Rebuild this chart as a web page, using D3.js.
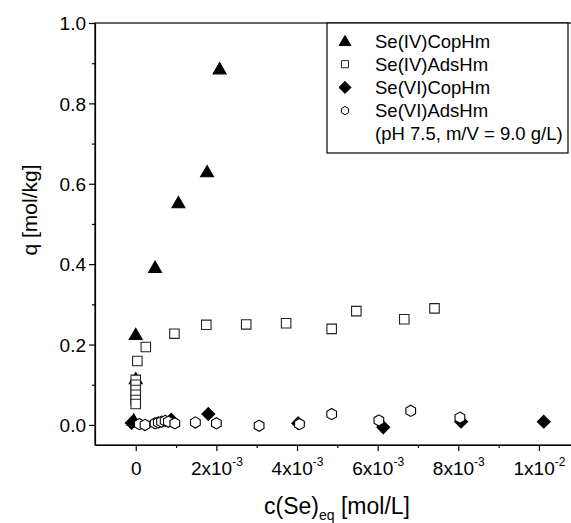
<!DOCTYPE html>
<html>
<head>
<meta charset="utf-8">
<script src="https://cdn.jsdelivr.net/npm/d3@7"></script>
<style>
  body { margin: 0; background: #fff; }
  text { font-family: "Liberation Sans", Arial, sans-serif; fill: #000; }
</style>
</head>
<body>
<script>
// Se(IV) co-precipitation on hematite (x in 1e-3 mol/L, q in mol/kg)
var copIVx = [0.00, 0.00, -0.05, 0.48, 1.06, 1.77, 2.08];
var copIVq = [0.225, 0.115, 0.012, 0.392, 0.553, 0.63, 0.886];

// Se(IV) adsorption
var adsIVx = [0.00, 0.00, 0.00, 0.00, 0.00, 0.00, 0.04, 0.25, 0.96, 1.75, 2.74, 3.73, 4.86, 5.47, 6.66, 7.41];
var adsIVq = [0.112, 0.100, 0.087, 0.075, 0.062, 0.052, 0.159, 0.194, 0.227, 0.249, 0.250, 0.253, 0.239, 0.283, 0.263, 0.290];

// Se(VI) co-precipitation
var copVIx = [-0.10, 0.88, 1.80, 4.03, 6.14, 8.07, 10.12];
var copVIq = [0.005, 0.013, 0.027, 0.004, -0.006, 0.008, 0.008];

// Se(VI) adsorption
var adsVIx = [0.09, 0.23, 0.48, 0.56, 0.64, 0.73, 0.81, 0.97, 1.48, 2.00, 3.06, 4.06, 4.86, 6.03, 6.82, 8.04];
var adsVIq = [0.002, 0.000, 0.004, 0.006, 0.008, 0.010, 0.008, 0.004, 0.006, 0.004, -0.002, 0.002, 0.027, 0.011, 0.035, 0.018];

var legendNames = ["Se(IV)CopHm", "Se(IV)AdsHm", "Se(VI)CopHm", "Se(VI)AdsHm"];
var legendNote = "(pH 7.5, m/V = 9.0 g/L)";

var yTicks = [0, 0.2, 0.4, 0.6, 0.8, 1.0];
var yMinor = [0.1, 0.3, 0.5, 0.7, 0.9];
var xTicks = [0, 2e-3, 4e-3, 6e-3, 8e-3, 1e-2];
var xMinor = [1e-3, 3e-3, 5e-3, 7e-3, 9e-3];
var xTickMant = ["0", "2x10", "4x10", "6x10", "8x10", "1x10"];
var xTickExp = ["", "-3", "-3", "-3", "-3", "-2"];

var W = 571, H = 523;
var plotL = 95, plotR = 572, plotT = 23, plotB = 445;

var x = d3.scaleLinear().domain([-1.01e-3, 10.82e-3]).range([plotL, plotR]);
var y = d3.scaleLinear().domain([-0.05, 1.0]).range([plotB, plotT]);

var svg = d3.select("body").append("svg")
    .attr("width", W)
    .attr("height", H);

// custom marker shapes
var triShape = { draw: function(c, s) {
    var r = Math.sqrt(s) / 2;
    c.moveTo(0, -r * 1.05); c.lineTo(r * 1.1, r * 0.85); c.lineTo(-r * 1.1, r * 0.85); c.closePath();
}};
var sqShape = { draw: function(c, s) {
    var r = Math.sqrt(s) / 2;
    c.rect(-r, -r, 2 * r, 2 * r);
}};
var diaShape = { draw: function(c, s) {
    var r = Math.sqrt(s) / 2 * 1.35;
    c.moveTo(0, -r); c.lineTo(r, 0); c.lineTo(0, r); c.lineTo(-r, 0); c.closePath();
}};
var hexShape = { draw: function(c, s) {
    var r = Math.sqrt(s) / 2 * 1.12;
    for (var i = 0; i < 6; i++) {
        var a = Math.PI / 3 * i - Math.PI / 2;
        if (i === 0) c.moveTo(r * Math.cos(a), r * Math.sin(a));
        else c.lineTo(r * Math.cos(a), r * Math.sin(a));
    }
    c.closePath();
}};

var series = [
    {xs: copIVx, qs: copIVq, shape: triShape, size: 140, fill: "#000", stroke: "#000"},
    {xs: adsIVx, qs: adsIVq, shape: sqShape, size: 90, fill: "#fff", stroke: "#222"},
    {xs: copVIx, qs: copVIq, shape: diaShape, size: 90, fill: "#000", stroke: "#000"},
    {xs: adsVIx, qs: adsVIq, shape: hexShape, size: 100, fill: "#fff", stroke: "#000"}
];

// frame
svg.append("rect")
    .attr("x", plotL).attr("y", plotT)
    .attr("width", plotR - plotL).attr("height", plotB - plotT)
    .attr("fill", "none").attr("stroke", "#000").attr("stroke-width", 1.2);

// y axis
svg.append("g")
    .attr("transform", "translate(" + plotL + ",0)")
    .call(d3.axisLeft(y).tickValues(yTicks).tickSize(6).tickSizeOuter(0).tickFormat(d3.format(".1f")))
    .call(function(g) {
        g.select(".domain").attr("stroke-width", 1.2);
        g.selectAll("line").attr("stroke-width", 1.2);
        g.selectAll("text").attr("font-size", "19px").attr("x", -9).attr("dy", "0.36em")
            .style("font-family", "Liberation Sans, Arial, sans-serif");
    });
svg.append("g")
    .attr("transform", "translate(" + plotL + ",0)")
    .call(d3.axisLeft(y).tickValues(yMinor).tickSize(3).tickSizeOuter(0).tickFormat(""))
    .call(function(g) { g.select(".domain").remove(); g.selectAll("line").attr("stroke-width", 1.2); });

// x axis
svg.append("g")
    .attr("transform", "translate(0," + plotB + ")")
    .call(d3.axisBottom(x).tickValues(xTicks).tickSize(6).tickSizeOuter(0).tickFormat(""))
    .call(function(g) {
        g.select(".domain").attr("stroke-width", 1.2);
        g.selectAll("line").attr("stroke-width", 1.2);
        g.selectAll(".tick text").remove();
        g.selectAll(".tick").each(function(d, i) {
            var t = d3.select(this).append("text")
                .attr("y", 30)
                .attr("text-anchor", "middle")
                .attr("font-size", "19px")
                .attr("fill", "#000");
            t.append("tspan").text(xTickMant[i]);
            if (xTickExp[i]) {
                t.append("tspan").attr("dy", -9).attr("font-size", "12px").text(xTickExp[i]);
            }
        });
    });
svg.append("g")
    .attr("transform", "translate(0," + plotB + ")")
    .call(d3.axisBottom(x).tickValues(xMinor).tickSize(3).tickSizeOuter(0).tickFormat(""))
    .call(function(g) { g.select(".domain").remove(); g.selectAll("line").attr("stroke-width", 1.2); });

// axis titles
svg.append("text")
    .attr("transform", "translate(37,210) rotate(-90)")
    .attr("text-anchor", "middle")
    .attr("font-size", "21px")
    .text("q [mol/kg]");

var xt = svg.append("text")
    .attr("x", 337)
    .attr("y", 514)
    .attr("text-anchor", "middle")
    .attr("font-size", "23px");
xt.append("tspan").text("c(Se)");
xt.append("tspan").attr("dy", 6).attr("font-size", "14px").text("eq");
xt.append("tspan").attr("dy", -6).text(" [mol/L]");

// markers
series.forEach(function(s) {
    var pts = s.xs.map(function(v, i) { return [v * 1e-3, s.qs[i]]; });
    svg.append("g").selectAll("path")
        .data(pts)
        .enter()
        .append("path")
        .attr("transform", function(d) { return "translate(" + x(d[0]) + "," + y(d[1]) + ")"; })
        .attr("d", d3.symbol().type(s.shape).size(s.size))
        .attr("fill", s.fill)
        .attr("stroke", s.stroke)
        .attr("stroke-width", 1.1);
});

// legend
var lg = svg.append("g");
lg.append("rect")
    .attr("x", 327).attr("y", plotT)
    .attr("width", 568 - 327).attr("height", 130)
    .attr("fill", "#fff").attr("stroke", "#000").attr("stroke-width", 1.2);
var legendSizes = [110, 50, 80, 55];
legendNames.forEach(function(name, i) {
    var cy = 41 + i * 23.2;
    lg.append("path")
        .attr("transform", "translate(345," + cy + ")")
        .attr("d", d3.symbol().type(series[i].shape).size(legendSizes[i]))
        .attr("fill", series[i].fill)
        .attr("stroke", series[i].stroke)
        .attr("stroke-width", 1);
    lg.append("text")
        .attr("x", 375).attr("y", cy + 6.5)
        .attr("font-size", "18.5px")
        .text(name);
});
lg.append("text")
    .attr("x", 375).attr("y", 41 + 4 * 23.2 + 6.5)
    .attr("font-size", "18.5px")
    .text(legendNote);
</script>
</body>
</html>
